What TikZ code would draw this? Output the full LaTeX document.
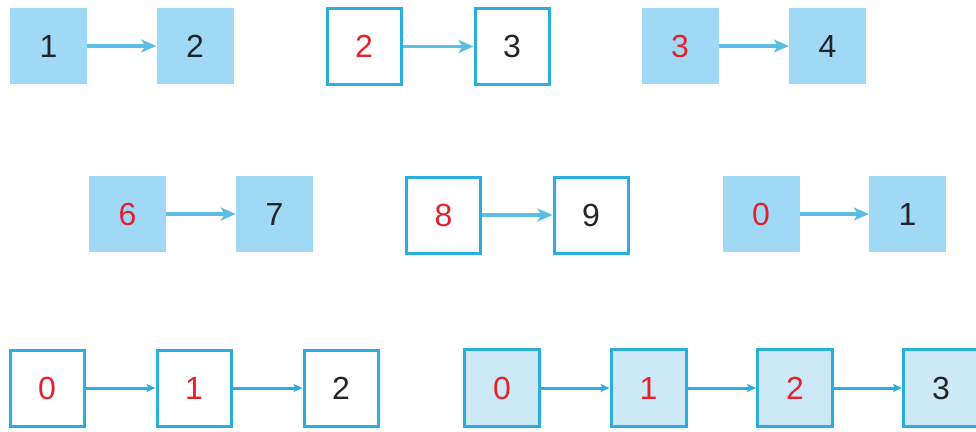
\documentclass[tikz,border=0pt]{standalone}
\usepackage{fontspec}
\setmainfont{Liberation Sans}
\usetikzlibrary{arrows.meta}
\definecolor{boxfill}{HTML}{9FD9F5}
\definecolor{lightfill}{HTML}{CDE9F8}
\definecolor{boxline}{HTML}{2AAEE0}
\definecolor{arrowc}{HTML}{5CBEE4}
\definecolor{numred}{HTML}{E2232E}
\definecolor{numblack}{HTML}{222428}
\tikzset{
  filledbox/.style={fill=boxfill, draw=none, minimum width=77pt, minimum height=76pt, inner sep=0pt, font=\fontsize{32}{32}\selectfont},
  outlinebox/.style={fill=white, draw=boxline, line width=3pt, minimum width=74pt, minimum height=76pt, inner sep=0pt, font=\fontsize{32}{32}\selectfont},
  bothbox/.style={fill=lightfill, draw=boxline, line width=3pt, minimum width=75pt, minimum height=77pt, inner sep=0pt, font=\fontsize{32}{32}\selectfont},
  redtxt/.style={text=numred},
  blktxt/.style={text=numblack},
  bigarrow/.style={draw=arrowc, line width=3.5pt, -{Stealth[length=15pt,width=13pt,inset=4pt]}},
  smallarrow/.style={draw=boxline, line width=3pt, -{Stealth[length=9pt,width=8pt,inset=2pt]}}
}
\begin{document}
\begin{tikzpicture}[x=1pt,y=-1pt]
\clip (0,0) rectangle (976,431);
\fill[white] (0,0) rectangle (976,431);
% Row 1
\node[filledbox,blktxt] (a1) at (48.5,46) {1};
\node[filledbox,blktxt] (a2) at (195,46) {2};
\draw[bigarrow] (a1) -- (a2);
\node[outlinebox,redtxt] (b1) at (364,46.5) {2};
\node[outlinebox,blktxt] (b2) at (512,46.5) {3};
\draw[bigarrow] (b1) -- (b2);
\node[filledbox,redtxt] (c1) at (680,46) {3};
\node[filledbox,blktxt] (c2) at (827.5,46) {4};
\draw[bigarrow] (c1) -- (c2);
% Row 2
\node[filledbox,redtxt] (d1) at (127.5,214) {6};
\node[filledbox,blktxt] (d2) at (274.5,214) {7};
\draw[bigarrow] (d1) -- (d2);
\node[outlinebox,redtxt] (e1) at (443.5,215) {8};
\node[outlinebox,blktxt] (e2) at (591,215) {9};
\draw[bigarrow] (e1) -- (e2);
\node[filledbox,redtxt] (f1) at (761,214) {0};
\node[filledbox,blktxt] (f2) at (907.5,214) {1};
\draw[bigarrow] (f1) -- (f2);
% Row 3
\node[outlinebox,redtxt] (g1) at (47,388) {0};
\node[outlinebox,redtxt] (g2) at (194,388) {1};
\node[outlinebox,blktxt] (g3) at (341,388) {2};
\draw[smallarrow] (g1) -- (g2);
\draw[smallarrow] (g2) -- (g3);
\node[bothbox,redtxt] (h1) at (502,388) {0};
\node[bothbox,redtxt] (h2) at (648.5,388) {1};
\node[bothbox,redtxt] (h3) at (795,388) {2};
\node[bothbox,blktxt] (h4) at (941,388) {3};
\draw[smallarrow] (h1) -- (h2);
\draw[smallarrow] (h2) -- (h3);
\draw[smallarrow] (h3) -- (h4);
\end{tikzpicture}
\end{document}
